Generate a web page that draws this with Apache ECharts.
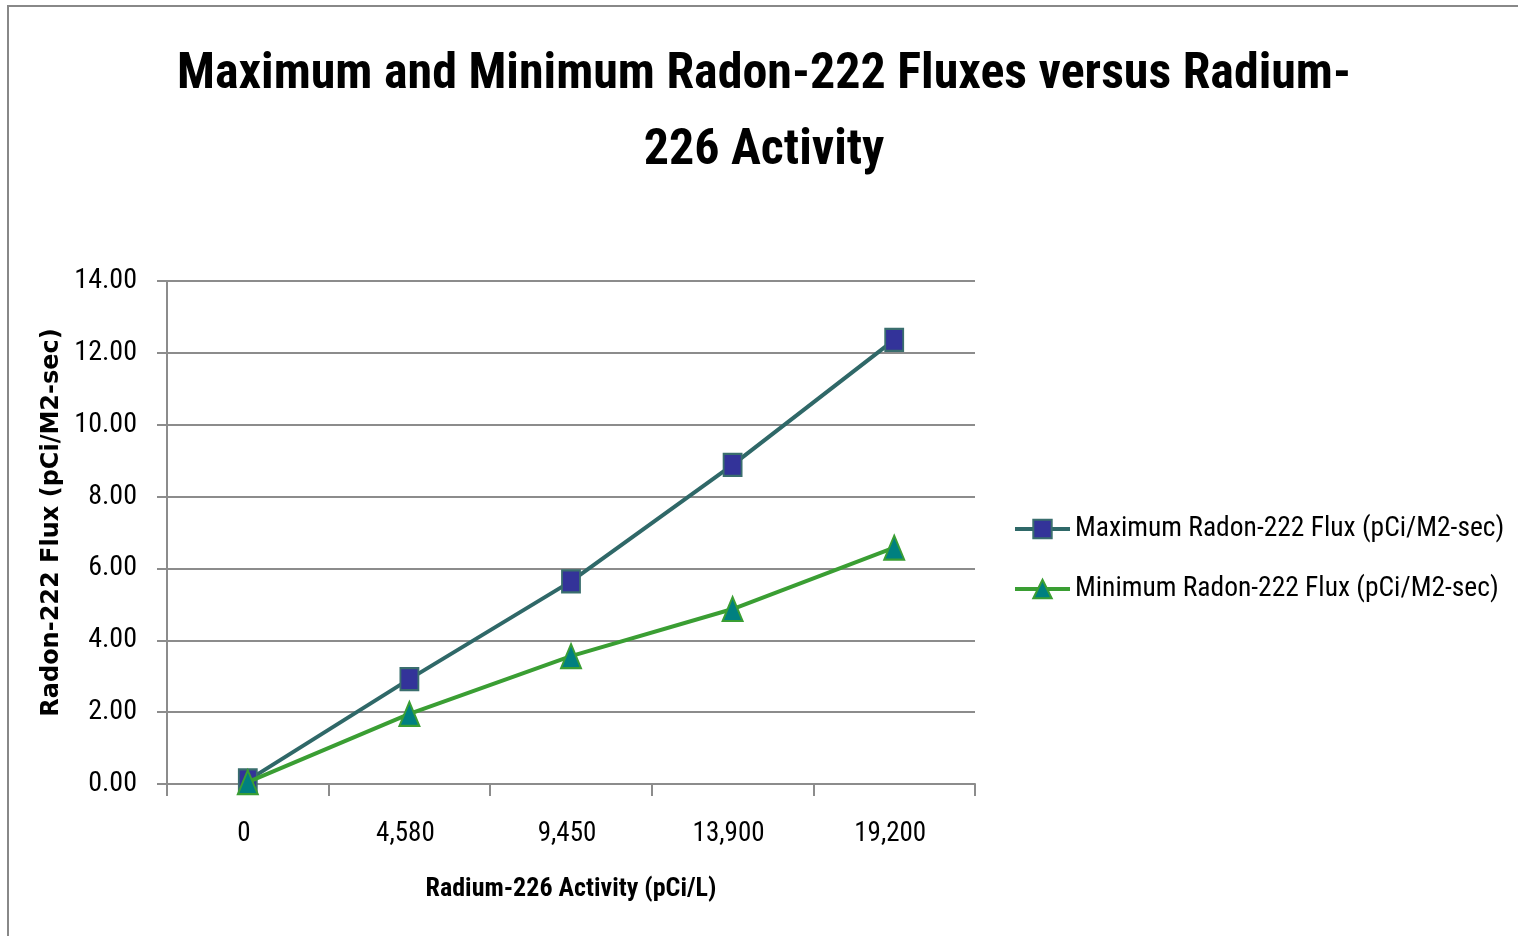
<!DOCTYPE html>
<html>
<head>
<meta charset="utf-8">
<script src="https://cdn.jsdelivr.net/npm/echarts@6/dist/echarts.min.js"></script>
<style>
html,body{margin:0;padding:0;background:#fff;}
#chart{width:1518px;height:936px;}
</style>
</head>
<body>
<div id="chart"></div>
<script>
const categories = ['0', '4,580', '9,450', '13,900', '19,200'];
const maxFlux = [0.1, 2.92, 5.64, 8.88, 12.36];
const minFlux = [0.05, 1.95, 3.56, 4.87, 6.58];
const titleText = 'Maximum and Minimum Radon-222 Fluxes versus Radium-\n226 Activity';
const seriesNames = ['Maximum Radon-222 Flux (pCi/M2-sec)', 'Minimum Radon-222 Flux (pCi/M2-sec)'];

const COND = '"Roboto Condensed", "Open Sans", sans-serif';
const chart = echarts.init(document.getElementById('chart'));
chart.setOption({
  animation: false,
  backgroundColor: '#fff',
  graphic: [{
    type: 'rect',
    shape: {x: 8, y: 6, width: 1700, height: 1100},
    style: {fill: 'none', stroke: '#888888', lineWidth: 2},
    silent: true
  }],
  title: {
    text: titleText,
    left: 759,
    textAlign: 'center',
    top: 32,
    textStyle: {
      fontFamily: COND,
      fontWeight: 'bold',
      fontSize: 50,
      lineHeight: 76,
      color: '#000'
    }
  },
  legend: {
    orient: 'vertical',
    left: 1008,
    top: 509,
    itemWidth: 55,
    itemHeight: 23,
    itemGap: 30,
    lineStyle: {width: 4},
    textStyle: {fontFamily: COND, fontSize: 27.5, color: '#000', lineHeight: 30},
    data: seriesNames
  },
  grid: {left: 167, right: 543, top: 281, bottom: 152, containLabel: false},
  xAxis: {
    type: 'category',
    data: categories,
    boundaryGap: true,
    name: 'Radium-226 Activity (pCi/L)',
    nameLocation: 'middle',
    nameGap: 92,
    nameTextStyle: {fontFamily: COND, fontWeight: 'bold', fontSize: 26, color: '#000'},
    axisLine: {lineStyle: {color: '#8c8c8c', width: 2}},
    axisTick: {show: true, length: 12, lineStyle: {color: '#8c8c8c', width: 2}},
    axisLabel: {fontFamily: COND, fontSize: 27, color: '#000', margin: 37, padding: [0, 8, 0, 0]}
  },
  yAxis: {
    type: 'value',
    min: 0,
    max: 14,
    interval: 2,
    name: 'Radon-222 Flux (pCi/M2-sec)',
    nameLocation: 'middle',
    nameGap: 103,
    nameRotate: 90,
    nameTextStyle: {fontFamily: '"DejaVu Sans", Verdana, sans-serif', fontWeight: 'bold', fontSize: 24, color: '#000', padding: [0, 0, 0, 20]},
    axisLine: {show: true, lineStyle: {color: '#8c8c8c', width: 2}},
    axisTick: {show: true, length: 10, lineStyle: {color: '#8c8c8c', width: 2}},
    splitLine: {show: true, lineStyle: {color: '#8c8c8c', width: 2}},
    axisLabel: {
      fontFamily: COND, fontSize: 28, color: '#000', margin: 30,
      formatter: v => v.toFixed(2)
    }
  },
  series: [{
    name: seriesNames[0],
    type: 'line',
    data: maxFlux,
    symbol: 'rect',
    symbolSize: [18, 22],
    lineStyle: {color: '#2f6868', width: 4},
    itemStyle: {color: '#333399', borderColor: '#3a6e6e', borderWidth: 2},
    z: 2
  }, {
    name: seriesNames[1],
    type: 'line',
    data: minFlux,
    symbol: 'triangle',
    symbolSize: [20, 24],
    lineStyle: {color: '#3a9e33', width: 4},
    itemStyle: {color: '#008080', borderColor: '#3a9e33', borderWidth: 2},
    z: 3
  }]
});
</script>
</body>
</html>
